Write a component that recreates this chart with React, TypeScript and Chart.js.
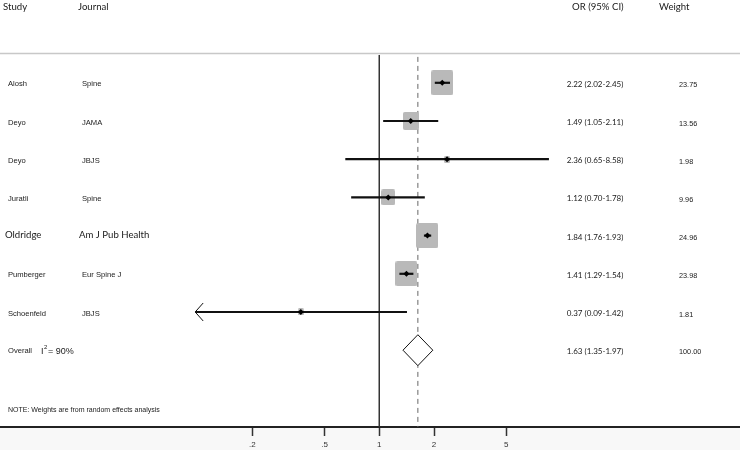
import React, { useEffect, useRef } from 'react';
import { Chart, registerables } from 'chart.js';

Chart.register(...registerables);

// ---- data ----
const studies = ['Alosh', 'Deyo', 'Deyo', 'Juratli', 'Oldridge', 'Pumberger', 'Schoenfeld'];
const journals = ['Spine', 'JAMA', 'JBJS', 'Spine', 'Am J Pub Health', 'Eur Spine J', 'JBJS'];
const orValues = [2.22, 1.49, 2.36, 1.12, 1.84, 1.41, 0.37];
const ciLower = [2.02, 1.05, 0.65, 0.7, 1.76, 1.29, 0.09];
const ciUpper = [2.45, 2.11, 8.58, 1.78, 1.93, 1.54, 1.42];
const weights = [23.75, 13.56, 1.98, 9.96, 24.96, 23.98, 1.81];
const weightLabels = ['23.75', '13.56', '1.98', '9.96', '24.96', '23.98', '1.81'];
const overallOR = [1.63];
const overallLower = [1.35];
const overallUpper = [1.97];
const overallWeightLabel = '100.00';
const heterogeneityLabel = '90%';
const tickValues = [0.2, 0.5, 1, 2, 5];
const tickLabels = ['.2', '.5', '1', '2', '5'];
const plotRangeMin = 0.097; // CI limits below this are drawn as an arrow

// ---- layout (not data) ----
const X_MIN = 0.008177;
const X_MAX = 96.6;
const Y_MIN = -2.1675;
const Y_MAX = 9.0105;
const REF_TOP = -0.728;
const overallRow = studies.length;

function fmt(v: number) {
  return v.toFixed(2);
}

function makeSquare(w: number): HTMLCanvasElement {
  const width = Math.round(4.45 * Math.sqrt(w));
  const height = Math.round(width * 1.15);
  const c = document.createElement('canvas');
  c.width = width;
  c.height = height;
  const ctx = c.getContext('2d')!;
  ctx.fillStyle = '#b9b9b9';
  const r = Math.min(2, width / 4);
  ctx.beginPath();
  (ctx as any).roundRect(0, 0, width, height, r);
  ctx.fill();
  return c;
}

const overlayPlugin = {
  id: 'forestOverlay',
  beforeDraw(chart: any) {
    const { ctx, chartArea, width, height } = chart;
    ctx.save();
    ctx.fillStyle = '#ffffff';
    ctx.fillRect(0, 0, width, height);
    ctx.fillStyle = '#f8f8f8';
    ctx.fillRect(0, chartArea.bottom, width, height - chartArea.bottom);
    ctx.restore();
  },
  afterDraw(chart: any) {
    const { ctx, width } = chart;
    const xs = chart.scales.x;
    const ys = chart.scales.y;
    ctx.save();
    // header separator
    ctx.strokeStyle = '#c8c8c8';
    ctx.lineWidth = 1.5;
    ctx.beginPath();
    ctx.moveTo(0, 53.5);
    ctx.lineTo(width, 53.5);
    ctx.stroke();

    ctx.fillStyle = '#1a1a1a';
    ctx.textBaseline = 'middle';
    ctx.textAlign = 'left';
    ctx.font = '9.6px Lato';
    ctx.fillText('Study', 3, 6.5);
    ctx.fillText('Journal', 78, 6.5);
    ctx.fillText('OR (95% CI)', 572, 6.5);
    ctx.fillText('Weight', 659, 6.5);

    studies.forEach((s, i) => {
      const y = ys.getPixelForValue(i) + 1.5;
      const big = journals[i] === 'Am J Pub Health';
      ctx.textAlign = 'left';
      ctx.font = big ? '9.6px Lato' : '7.6px "Liberation Sans"';
      ctx.fillText(s, big ? 5 : 8, big ? y - 2 : y);
      ctx.fillText(journals[i], big ? 79 : 82, big ? y - 2 : y);
      ctx.textAlign = 'center';
      ctx.font = '8px Lato';
      ctx.fillText(`${fmt(orValues[i])} (${fmt(ciLower[i])}-${fmt(ciUpper[i])})`, 595, y);
      ctx.textAlign = 'left';
      ctx.font = '7.3px "Liberation Sans"';
      ctx.fillText(weightLabels[i], 679, y + 1);

      // arrow for truncated CI
      if (ciLower[i] < plotRangeMin) {
        const tx = xs.getPixelForValue(plotRangeMin);
        const ty = ys.getPixelForValue(i);
        ctx.strokeStyle = '#111';
        ctx.lineWidth = 1;
        ctx.beginPath();
        ctx.moveTo(tx + 8, ty - 9);
        ctx.lineTo(tx, ty);
        ctx.lineTo(tx + 8, ty + 9);
        ctx.stroke();
      }
    });

    const yo = ys.getPixelForValue(overallRow) + 1;
    ctx.textAlign = 'left';
    ctx.font = '7.6px "Liberation Sans"';
    ctx.fillText('Overall', 8, yo);
    ctx.font = '9px "Liberation Sans"';
    ctx.fillText('I', 41, yo);
    ctx.font = '6px "Liberation Sans"';
    ctx.fillText('2', 44, yo - 4);
    ctx.font = '9px "Liberation Sans"';
    ctx.fillText(`= ${heterogeneityLabel}`, 48, yo);
    ctx.textAlign = 'center';
    ctx.font = '8px Lato';
    ctx.fillText(`${fmt(overallOR[0])} (${fmt(overallLower[0])}-${fmt(overallUpper[0])})`, 595, yo);
    ctx.textAlign = 'left';
    ctx.font = '7.3px "Liberation Sans"';
    ctx.fillText(overallWeightLabel, 679, yo + 1);

    ctx.font = '7px "Liberation Sans"';
    ctx.fillText('NOTE: Weights are from random effects analysis', 8, 410);
    ctx.restore();
  },
};

export default function App() {
  const ref = useRef<HTMLCanvasElement>(null);

  useEffect(() => {
    if (!ref.current) return;
    const rows = studies.map((_, i) => i);

    const ciDatasets = rows.map((i) => ({
      type: 'line' as const,
      data: [
        { x: Math.max(ciLower[i], plotRangeMin), y: i },
        { x: ciUpper[i], y: i },
      ],
      borderColor: '#111',
      borderWidth: 2.2,
      pointRadius: 0,
      fill: false,
      order: 3,
    }));

    const chart = new Chart(ref.current, {
      type: 'line',
      data: {
        datasets: [
          {
            type: 'line',
            data: [
              { x: 1, y: REF_TOP },
              { x: 1, y: Y_MAX },
            ],
            borderColor: '#333',
            borderWidth: 1,
            pointRadius: 0,
            fill: false,
            order: 6,
          },
          {
            type: 'line',
            data: [
              { x: overallOR[0], y: REF_TOP + 0.05 },
              { x: overallOR[0], y: Y_MAX },
            ],
            borderColor: '#666',
            borderWidth: 1,
            borderDash: [5, 4],
            pointRadius: 0,
            fill: false,
            order: 6,
          },
          {
            type: 'scatter',
            data: rows.map((i) => ({ x: orValues[i], y: i })),
            pointStyle: weights.map((w) => makeSquare(w)) as any,
            pointRadius: 10,
            order: 5,
          },
          ...ciDatasets,
          {
            type: 'scatter',
            data: rows.map((i) => ({ x: orValues[i], y: i })),
            pointStyle: 'rectRot',
            pointRadius: 3,
            backgroundColor: '#000',
            borderColor: '#000',
            borderWidth: 0,
            order: 2,
          },
          {
            type: 'line',
            data: [
              { x: overallLower[0], y: overallRow },
              { x: overallOR[0], y: overallRow - 0.405 },
              { x: overallUpper[0], y: overallRow },
              { x: overallOR[0], y: overallRow + 0.405 },
              { x: overallLower[0], y: overallRow },
            ],
            borderColor: '#111',
            borderWidth: 1,
            backgroundColor: '#ffffff',
            fill: 'shape',
            pointRadius: 0,
            tension: 0,
            order: 1,
          },
        ] as any,
      },
      options: {
        animation: false,
        responsive: false,
        layout: { padding: 0, autoPadding: false },
        plugins: {
          legend: { display: false },
          tooltip: { enabled: false },
        },
        scales: {
          x: {
            type: 'logarithmic',
            min: X_MIN,
            max: X_MAX,
            afterBuildTicks: (scale: any) => {
              scale.ticks = tickValues.map((v) => ({ value: v }));
            },
            afterFit: (scale: any) => {
              scale.height = 23;
            },
            ticks: {
              autoSkip: false,
              maxRotation: 0,
              padding: 4,
              color: '#333',
              font: { family: '"Liberation Sans"', size: 8 },
              callback: (v: any) => {
                const idx = tickValues.findIndex((t) => Math.abs(t - Number(v)) < 1e-9);
                return idx >= 0 ? tickLabels[idx] : '';
              },
            },
            grid: {
              drawOnChartArea: false,
              drawTicks: true,
              tickLength: 9,
              tickColor: '#333',
              tickWidth: 1.5,
            },
            border: { display: true, color: '#222', width: 2 },
          },
          y: {
            type: 'linear',
            display: false,
            reverse: true,
            min: Y_MIN,
            max: Y_MAX,
          },
        },
      },
      plugins: [overlayPlugin],
    });
    return () => chart.destroy();
  }, []);

  return (
    <div style={{ position: 'absolute', left: 0, top: 0, width: 740, height: 450 }}>
      <canvas ref={ref} width={740} height={450} style={{ display: 'block' }} />
    </div>
  );
}
